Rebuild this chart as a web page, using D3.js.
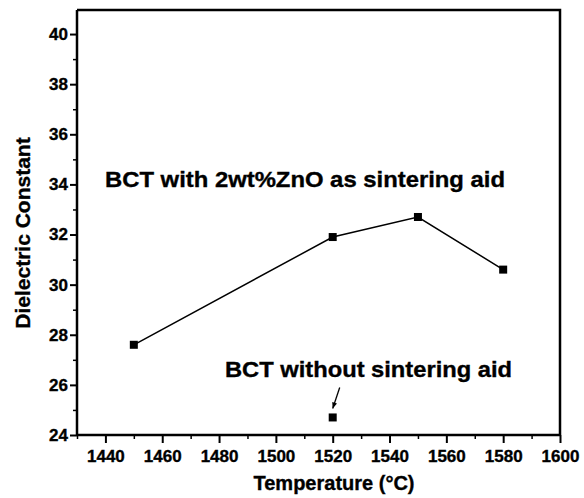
<!DOCTYPE html>
<html>
<head>
<meta charset="utf-8">
<script src="https://cdn.jsdelivr.net/npm/d3@7"></script>
<style>
  html, body { margin: 0; padding: 0; background: #fff; }
  svg text { font-family: "Liberation Sans", Arial, sans-serif; font-weight: bold; fill: #000;
             stroke: #000; stroke-width: 0.35px; }
</style>
</head>
<body>
<svg id="chart" width="584" height="498"></svg>
<script>
// Sintering temperature (°C) vs. dielectric constant
const temperatures = [1450, 1520, 1550, 1580];
const dielectricWithZnO = [27.6, 31.9, 32.7, 30.6];
const noAidTemperature = [1520];
const dielectricNoAid = [24.7];
const xTicks = [1440, 1460, 1480, 1500, 1520, 1540, 1560, 1580, 1600];
const yTicks = [24, 26, 28, 30, 32, 34, 36, 38, 40];
const labelWithZnO = "BCT with 2wt%ZnO as sintering aid";
const labelNoAid = "BCT without sintering aid";

const svg = d3.select("#chart");
const plot = { left: 77, right: 560, top: 10, bottom: 435 };

const x = d3.scaleLinear().domain([1430, 1600]).range([plot.left, plot.right]);
const y = d3.scaleLinear().domain([24, 40.96]).range([plot.bottom, plot.top]);

// frame: top and right edges
svg.append("path")
  .attr("d", `M${plot.left},${plot.top}H${plot.right}V${plot.bottom}`)
  .attr("fill", "none").attr("stroke", "#000").attr("stroke-width", 2.5);

// x axis with minor ticks
const xMinor = d3.range(1430, 1601, 10).filter(v => !xTicks.includes(v));
const gx = svg.append("g").attr("transform", `translate(0,${plot.bottom})`);
gx.call(d3.axisBottom(x).tickValues(xMinor).tickSize(4).tickFormat(""));
gx.call(g => g.select(".domain").remove());
gx.selectAll(".tick line").attr("stroke-width", 1.5);
const gx2 = svg.append("g").attr("transform", `translate(0,${plot.bottom})`);
gx2.call(d3.axisBottom(x).tickValues(xTicks).tickSize(8).tickPadding(7).tickFormat(d3.format("d")));
gx2.select(".domain").attr("stroke-width", 2.5).attr("d", `M${plot.left},0H${plot.right}`);
gx2.selectAll(".tick line").attr("stroke-width", 2);
gx2.selectAll(".tick text").attr("font-size", 17);

// y axis with minor ticks
const yMinor = d3.range(25, 41, 2);
const gy = svg.append("g").attr("transform", `translate(${plot.left},0)`);
gy.call(d3.axisLeft(y).tickValues(yMinor).tickSize(4).tickFormat(""));
gy.call(g => g.select(".domain").remove());
gy.selectAll(".tick line").attr("stroke-width", 1.5);
const gy2 = svg.append("g").attr("transform", `translate(${plot.left},0)`);
gy2.call(d3.axisLeft(y).tickValues(yTicks).tickSize(7).tickPadding(2).tickFormat(d3.format("d")));
gy2.select(".domain").attr("stroke-width", 2.5).attr("d", `M0,${plot.top}V${plot.bottom}`);
gy2.selectAll(".tick line").attr("stroke-width", 2);
gy2.selectAll(".tick text").attr("font-size", 17);

// axis titles
svg.append("text")
  .attr("x", 334).attr("y", 490)
  .attr("text-anchor", "middle").attr("font-size", 20)
  .text("Temperature (°C)");
svg.append("text")
  .attr("transform", "translate(30,233) rotate(-90)")
  .attr("text-anchor", "middle").attr("font-size", 21)
  .text("Dielectric Constant");

// series with ZnO
const pts = temperatures.map((t, i) => [t, dielectricWithZnO[i]]);
svg.append("path")
  .datum(pts)
  .attr("fill", "none").attr("stroke", "#000").attr("stroke-width", 1.5)
  .attr("d", d3.line().x(d => x(d[0])).y(d => y(d[1])));

const sq = 8;
svg.selectAll("rect.zno").data(pts).join("rect")
  .attr("class", "zno")
  .attr("x", d => x(d[0]) - sq / 2).attr("y", d => y(d[1]) - sq / 2)
  .attr("width", sq).attr("height", sq).attr("fill", "#000");

// sample without sintering aid
const ptsNoAid = noAidTemperature.map((t, i) => [t, dielectricNoAid[i]]);
svg.selectAll("rect.noaid").data(ptsNoAid).join("rect")
  .attr("class", "noaid")
  .attr("x", d => x(d[0]) - sq / 2).attr("y", d => y(d[1]) - sq / 2)
  .attr("width", sq).attr("height", sq).attr("fill", "#000");

// annotations
svg.append("text")
  .attr("x", 105).attr("y", 187).attr("font-size", 21.5)
  .attr("textLength", 400).attr("lengthAdjust", "spacingAndGlyphs")
  .text(labelWithZnO);
svg.append("text")
  .attr("x", 225).attr("y", 377).attr("font-size", 21.5)
  .attr("textLength", 287).attr("lengthAdjust", "spacingAndGlyphs")
  .text(labelNoAid);

// pointer arrow to the no-aid sample
const p = ptsNoAid[0];
const ax0 = x(p[0]) + 7, ay0 = y(p[1]) - 30;
const ax1 = x(p[0]), ay1 = y(p[1]) - 9;
svg.append("line")
  .attr("x1", ax0).attr("y1", ay0).attr("x2", ax1).attr("y2", ay1)
  .attr("stroke", "#000").attr("stroke-width", 1.3);
const ang = Math.atan2(ay1 - ay0, ax1 - ax0);
const hl = 6, hw = 2.5;
const bx = ax1 - hl * Math.cos(ang), by = ay1 - hl * Math.sin(ang);
svg.append("path")
  .attr("d", `M${ax1},${ay1}L${bx + hw * Math.sin(ang)},${by - hw * Math.cos(ang)}L${bx - hw * Math.sin(ang)},${by + hw * Math.cos(ang)}Z`)
  .attr("fill", "#000");
</script>
</body>
</html>
